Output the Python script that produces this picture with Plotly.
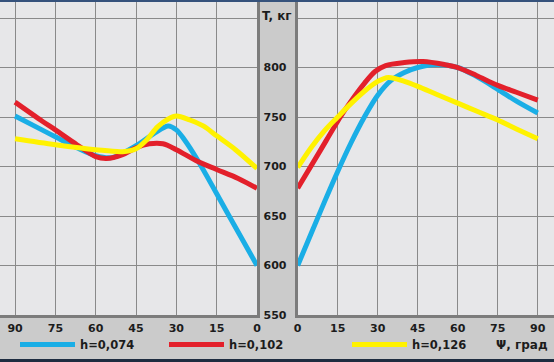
import plotly.graph_objects as go

# ---- data ----
psi_ticks = [0, 15, 30, 45, 60, 75, 90]
t_ticks = [550, 600, 650, 700, 750, 800]
names = ["h=0,074", "h=0,102", "h=0,126"]
colors = ["#1aaee6", "#e3202b", "#fff200"]

# left panel (Psi decreasing 90 -> 0)
blue_left_psi = [90, 80, 75, 67, 60, 54, 45, 38, 33, 30, 27, 22, 11, 0]
blue_left_t = [751, 737, 730, 719, 711, 709, 721, 734, 741, 737, 727, 706, 653, 600]
red_left_psi = [90, 80, 75, 67, 60, 56, 50, 45, 40, 35, 30, 22, 15, 7, 0]
red_left_t = [765, 746, 737, 722, 710, 708, 712, 719, 723, 723, 717, 705, 697, 688, 678]
yel_left_psi = [90, 75, 60, 50, 45, 41, 37, 33, 30, 25, 20, 15, 8, 0]
yel_left_t = [728, 722, 717, 715, 718, 727, 740, 748, 751, 747, 741, 731, 717, 698]

# right panel (Psi increasing 0 -> 90)
blue_right_psi = [0, 5, 10, 15, 20, 25, 30, 35, 40, 45, 52, 60, 67, 75, 82, 90]
blue_right_t = [600, 632, 664, 695, 724, 750, 772, 787, 795, 800, 803, 800, 791, 778, 766, 754]
red_right_psi = [0, 8, 16, 20, 25, 29, 33, 40, 47, 55, 60, 67, 75, 82, 90]
red_right_t = [678, 714, 750, 766, 784, 796, 802, 805, 806, 803, 800, 792, 782, 775, 767]
yel_right_psi = [0, 5, 10, 15, 19, 25, 30, 34, 40, 45, 52, 60, 67, 75, 82, 90]
yel_right_t = [699, 719, 736, 750, 761, 776, 786, 790, 786, 781, 773, 764, 756, 747, 738, 728]

left = [(blue_left_psi, blue_left_t), (red_left_psi, red_left_t), (yel_left_psi, yel_left_t)]
right = [(blue_right_psi, blue_right_t), (red_right_psi, red_right_t), (yel_right_psi, yel_right_t)]

W, H = 554, 362
FONT = "DejaVu Sans"
TXT = "#1c1c1c"

fig = go.Figure()
legends = ["legend", "legend2", "legend3"]
for i in range(3):
    fig.add_trace(go.Scatter(x=left[i][0], y=left[i][1], mode="lines", name=names[i],
                             line=dict(color=colors[i], width=5, shape="spline", smoothing=0.9),
                             xaxis="x", yaxis="y", showlegend=False, hoverinfo="skip"))
    fig.add_trace(go.Scatter(x=right[i][0], y=right[i][1], mode="lines", name=names[i],
                             line=dict(color=colors[i], width=5, shape="spline", smoothing=0.9),
                             xaxis="x2", yaxis="y2", showlegend=True, legend=legends[i],
                             hoverinfo="skip"))

grid = "#8a8a8a"
axline = "#7c7c7c"
yr = [550, 868.2]
tickfont = dict(family=FONT, size=11, color=TXT, weight="bold")

common_x = dict(tickvals=psi_ticks, ticktext=[str(v) for v in psi_ticks],
                showgrid=True, gridcolor=grid, gridwidth=1, zeroline=False,
                showline=True, linecolor=axline, linewidth=3,
                ticks="outside", ticklen=1, tickcolor="rgba(0,0,0,0)",
                tickfont=tickfont)

fig.update_layout(
    width=W, height=H,
    margin=dict(l=0, r=0, t=0, b=47, autoexpand=False),
    paper_bgcolor="#cbcbcb", plot_bgcolor="#e7e7e9",
    xaxis=dict(domain=[0, 257 / W], range=[95.6, 0], anchor="y", **common_x),
    xaxis2=dict(domain=[297.7 / W, 1], range=[0, 96.1], anchor="y2", **common_x),
    yaxis=dict(range=yr, anchor="x", side="right", tickvals=t_ticks + [850],
               showticklabels=False, showgrid=True, gridcolor=grid, gridwidth=1,
               zeroline=False, showline=True, linecolor=axline, linewidth=3, ticks=""),
    yaxis2=dict(range=yr, anchor="x2", side="left", tickvals=t_ticks + [850],
                ticktext=[str(v) for v in t_ticks] + [""],
                showgrid=True, gridcolor=grid, gridwidth=1, zeroline=False,
                showline=True, linecolor=axline, linewidth=3,
                ticks="outside", ticklen=6, tickcolor="rgba(0,0,0,0)",
                tickfont=tickfont),
    showlegend=True,
)

leg_common = dict(orientation="h", yanchor="middle", y=-0.094, xanchor="left",
                  bgcolor="rgba(0,0,0,0)", borderwidth=0, itemwidth=55,
                  font=dict(family=FONT, size=11.5, color=TXT, weight="bold"))
fig.update_layout(legend=dict(x=15 / W, **leg_common),
                  legend2=dict(x=164 / W, **leg_common),
                  legend3=dict(x=347 / W, **leg_common))

fig.add_annotation(text="T, кг", xref="paper", yref="y2", x=277.3 / W, y=852,
                   showarrow=False, font=dict(family=FONT, size=12, color=TXT, weight="bold"))
fig.add_annotation(text="Ψ, град", xref="paper", yref="paper", x=522 / W, y=-0.094,
                   xanchor="center", yanchor="middle",
                   showarrow=False, font=dict(family=FONT, size=12, color=TXT, weight="bold"))

# top and bottom frame strips
fig.add_shape(type="rect", xref="paper", yref="paper", x0=0, x1=1, y0=1 - 2 / 315, y1=1,
              fillcolor="#35527c", line_width=0, layer="above")
fig.add_shape(type="rect", xref="paper", yref="paper", x0=0, x1=1,
              y0=-47 / 315, y1=-44 / 315, fillcolor="#1e2c40", line_width=0, layer="above")

fig.write_html("out.html", config={"displayModeBar": False},
               post_script="document.body.style.margin='0px';")
